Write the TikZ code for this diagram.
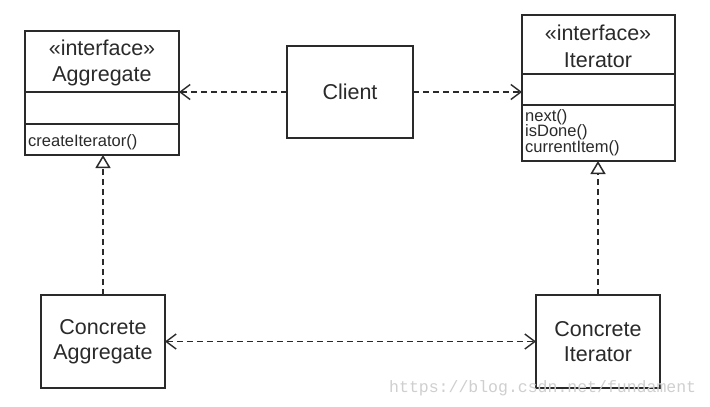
\documentclass[tikz,border=0pt]{standalone}
\usepackage{fontspec}
\setmainfont{Liberation Sans}
\newfontfamily\wmfont{Liberation Mono}
\usetikzlibrary{arrows.meta}
\definecolor{ink}{HTML}{2A2A2A}
\definecolor{wm}{HTML}{CFCFCF}
\begin{document}
\begin{tikzpicture}[x=1pt,y=-1pt,
  box/.style={draw=ink, line width=1.4pt, fill=white, inner sep=0pt, outer sep=0pt, anchor=north west},
  lbl/.style={text=ink, inner sep=0pt, anchor=base, font=\fontsize{21.5}{25}\selectfont},
  mem/.style={text=ink, inner sep=0pt, anchor=base west, font=\fontsize{16.5}{15}\selectfont},
  divider/.style={draw=ink, line width=1.2pt},
  barb/.tip={Straight Barb[length=10pt,width=15pt,line width=1.4pt]},
  dep/.style={draw=ink, line width=1.3pt, dash pattern=on 6pt off 4pt, -barb},
  dep2/.style={dep, barb-barb},
  real/.style={draw=ink, line width=1.3pt, dash pattern=on 6pt off 4pt, -{Triangle[open,length=13pt,width=15pt,line width=1.5pt]}}
]
\useasboundingbox (0,0) rectangle (710,407);
\fill[white] (0,0) rectangle (710,407);

% Aggregate interface
\node[box, minimum width=154pt, minimum height=124pt] (agg) at (25,31) {};
\draw[divider] (agg.west |- 0,92) -- (agg.east |- 0,92);
\draw[divider] (agg.west |- 0,124) -- (agg.east |- 0,124);
\node[lbl] (aggst) at (102,55) {«interface»};
\node[lbl] (aggnm) at (102,81) {Aggregate};
\node[mem] (aggop) at (28,146) {createIterator()};

% Iterator interface
\node[box, minimum width=153pt, minimum height=146pt] (it) at (522,15) {};
\draw[divider] (it.west |- 0,74) -- (it.east |- 0,74);
\draw[divider] (it.west |- 0,105) -- (it.east |- 0,105);
\node[lbl] (itst) at (598,40) {«interface»};
\node[lbl] (itnm) at (598,67) {Iterator};
\node[mem] (itop1) at (525,121) {next()};
\node[mem] (itop2) at (525,136.5) {isDone()};
\node[mem] (itop3) at (525,152) {currentItem()};

% Client
\node[box, minimum width=126pt, minimum height=92pt] (client) at (287,46) {};
\node[lbl, anchor=center] (clientlbl) at (client.center) {Client};

% Concrete classes
\node[box, minimum width=124pt, minimum height=93pt] (ca) at (41,295) {};
\node[lbl, anchor=center, align=center] (calbl) at (ca.center) {Concrete\\Aggregate};
\node[box, minimum width=124pt, minimum height=93pt] (ci) at (536,295) {};
\node[lbl, anchor=center, align=center] (cilbl) at (ci.center) {Concrete\\Iterator};

% Connectors
\draw[dep] (client.west) -- (client.west -| agg.east);
\draw[dep] (client.east) -- (client.east -| it.west);
\draw[dep2] (ca.east) -- (ci.west);
\draw[real] (ca.north) -- (ca.north |- agg.south);
\draw[real] (ci.north) -- (ci.north |- it.south);

% Watermark
\node[text=wm, inner sep=0pt, anchor=base west, font=\wmfont\fontsize{16.5}{18}\selectfont] (wmk) at (389,392) {https://blog.csdn.net/fundament};
\end{tikzpicture}
\end{document}
